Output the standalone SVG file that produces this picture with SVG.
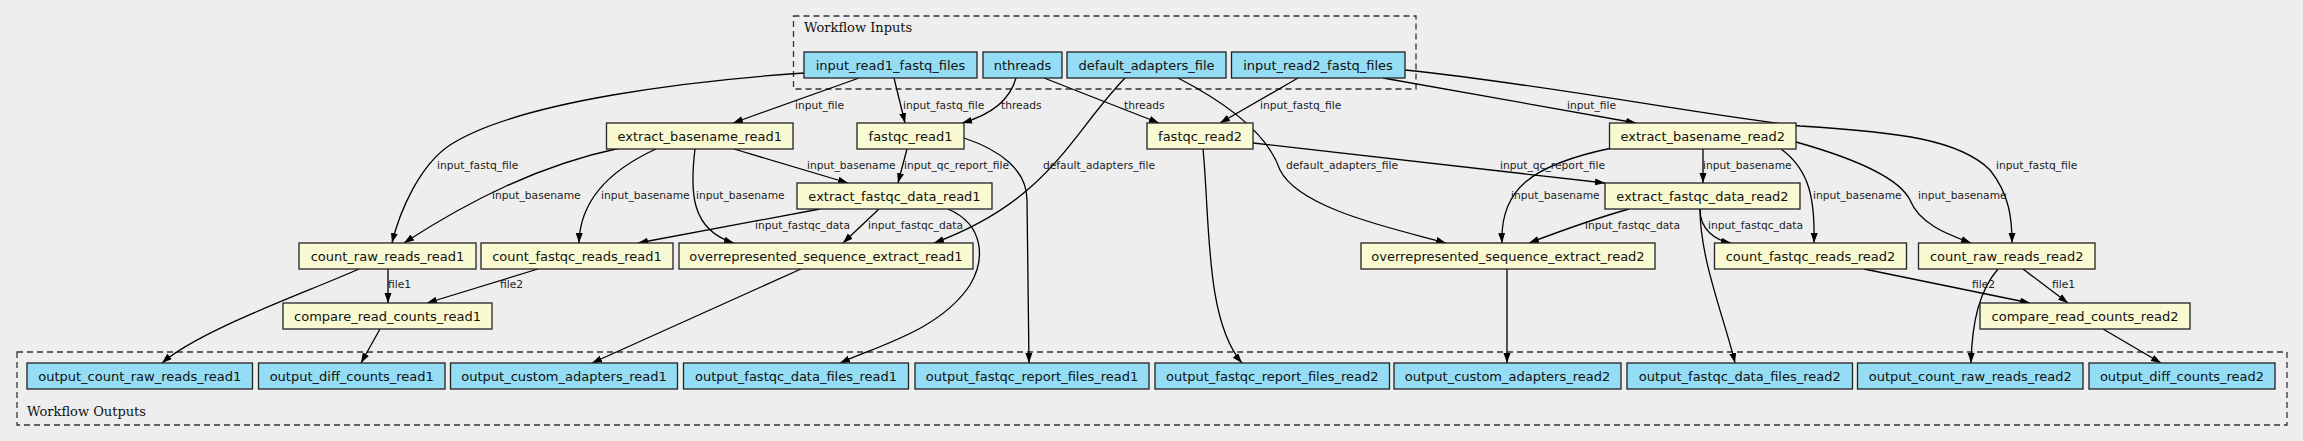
<svg xmlns="http://www.w3.org/2000/svg" width="2303" height="441" viewBox="0 0 2303 441">
<defs>
<marker id="arr" markerUnits="userSpaceOnUse" markerWidth="11" markerHeight="8" refX="10" refY="3.5" orient="auto">
<path d="M0,0 L10,3.5 L0,7 z" fill="#000"/>
</marker>
<style>
.bg{fill:#eeeeee}
.cl{fill:none;stroke:#333;stroke-width:1.3;stroke-dasharray:6,4}
.ct{font-family:"DejaVu Serif",serif;font-size:13px;fill:#111}
.in rect{fill:#94ddf4;stroke:#222;stroke-width:1.3}
.st rect{fill:#fafad2;stroke:#222;stroke-width:1.3}
.nt{font-family:"DejaVu Sans",sans-serif;font-size:13px;fill:#111;text-anchor:middle}
#connectors path{fill:none;stroke:#000;stroke-width:1.3;marker-end:url(#arr)}
.el{font-family:"DejaVu Sans",sans-serif;font-size:10.7px;fill:#222}
</style>
</defs>
<rect class="bg" x="0" y="0" width="2303" height="441"/>
<g id="cluster_inputs">
<rect class="cl" x="793.5" y="16" width="622.5" height="73"/>
<text class="ct" x="804" y="31.5">Workflow Inputs</text>
</g>
<g id="cluster_outputs">
<rect class="cl" x="17" y="352" width="2270" height="73"/>
<text class="ct" x="27" y="416">Workflow Outputs</text>
</g>

<g id="connectors">
<path d="M859,78 L733,123"/>
<path d="M894,78 L905,123"/>
<path d="M804,73 C700,80 520,100 450,145 C420,165 400,210 392,243"/>
<path d="M1016,78 C1010,100 990,115 962,123"/>
<path d="M1044,78 L1159,123"/>
<path d="M1125,78 C1070,135 1050,200 934,243"/>
<path d="M1178,78 C1240,110 1270,140 1280,170 C1300,210 1400,230 1446,243"/>
<path d="M1298,78 L1220,123"/>
<path d="M1383,78 L1636,123"/>
<path d="M1405,70 C1550,85 1700,115 1800,126 C1900,132 1960,140 1990,170 C2010,195 2012,220 2012,243"/>
<path d="M620,148 C540,165 470,200 404,243"/>
<path d="M656,149 C610,170 580,200 579,243"/>
<path d="M695,149 C690,190 690,230 734,243"/>
<path d="M734,149 L848,183"/>
<path d="M907,149 L898,183"/>
<path d="M964,138 C1000,150 1027,170 1027,200 L1029,363"/>
<path d="M1253,143 L1605,183"/>
<path d="M1203,149 C1210,220 1205,320 1242,363"/>
<path d="M1703,149 L1703,183"/>
<path d="M1612,148 C1530,165 1500,190 1502,243"/>
<path d="M1781,149 C1810,170 1815,200 1814,243"/>
<path d="M1796,142 C1860,160 1900,180 1910,200 C1920,225 1950,235 1971,243"/>
<path d="M820,209 L638,243"/>
<path d="M879,209 L843,243"/>
<path d="M948,209 C985,225 985,260 970,285 C940,330 880,345 840,363"/>
<path d="M1629,209 C1590,220 1550,235 1529,243"/>
<path d="M1700,209 C1700,230 1715,240 1731,243"/>
<path d="M1700,209 C1700,260 1725,320 1735,363"/>
<path d="M388,269 L388,303"/>
<path d="M359,269 C300,295 200,330 162,363"/>
<path d="M538,269 L427,303"/>
<path d="M380,329 L361,363"/>
<path d="M801,269 L592,363"/>
<path d="M1507,269 L1507,363"/>
<path d="M2023,269 L2068,303"/>
<path d="M1998,269 C1980,290 1972,320 1971,363"/>
<path d="M1864,269 L2030,303"/>
<path d="M2103,329 L2161,363"/>
<g id="edge-labels">
<text class="el" x="795" y="109">input_file</text>
<text class="el" x="903" y="109">input_fastq_file</text>
<text class="el" x="1001" y="109">threads</text>
<text class="el" x="1124" y="109">threads</text>
<text class="el" x="1260" y="109">input_fastq_file</text>
<text class="el" x="1567" y="109">input_file</text>
<text class="el" x="437" y="169">input_fastq_file</text>
<text class="el" x="807" y="169">input_basename</text>
<text class="el" x="904" y="169">input_qc_report_file</text>
<text class="el" x="1043" y="169">default_adapters_file</text>
<text class="el" x="1286" y="169">default_adapters_file</text>
<text class="el" x="1500" y="169">input_qc_report_file</text>
<text class="el" x="1703" y="169">input_basename</text>
<text class="el" x="1996" y="169">input_fastq_file</text>
<text class="el" x="492" y="199">input_basename</text>
<text class="el" x="601" y="199">input_basename</text>
<text class="el" x="696" y="199">input_basename</text>
<text class="el" x="1511" y="199">input_basename</text>
<text class="el" x="1813" y="199">input_basename</text>
<text class="el" x="1918" y="199">input_basename</text>
<text class="el" x="755" y="229">input_fastqc_data</text>
<text class="el" x="868" y="229">input_fastqc_data</text>
<text class="el" x="1585" y="229">input_fastqc_data</text>
<text class="el" x="1708" y="229">input_fastqc_data</text>
<text class="el" x="388" y="288">file1</text>
<text class="el" x="500" y="288">file2</text>
<text class="el" x="1972" y="288">file2</text>
<text class="el" x="2052" y="288">file1</text>
</g>
</g>

<g id="input_read1_fastq_files" class="in"><rect x="804" y="52" width="173" height="26"/><text class="nt" x="890.5" y="69.5">input_read1_fastq_files</text></g>
<g id="nthreads" class="in"><rect x="983" y="52" width="79" height="26"/><text class="nt" x="1022.5" y="69.5">nthreads</text></g>
<g id="default_adapters_file" class="in"><rect x="1067" y="52" width="159" height="26"/><text class="nt" x="1146.5" y="69.5">default_adapters_file</text></g>
<g id="input_read2_fastq_files" class="in"><rect x="1231.5" y="52" width="173.5" height="26"/><text class="nt" x="1318" y="69.5">input_read2_fastq_files</text></g>

<g id="extract_basename_read1" class="st"><rect x="606.5" y="123" width="186.5" height="26"/><text class="nt" x="699.75" y="140.5">extract_basename_read1</text></g>
<g id="fastqc_read1" class="st"><rect x="857" y="123" width="107" height="26"/><text class="nt" x="910.5" y="140.5">fastqc_read1</text></g>
<g id="fastqc_read2" class="st"><rect x="1147" y="123" width="106" height="26"/><text class="nt" x="1200" y="140.5">fastqc_read2</text></g>
<g id="extract_basename_read2" class="st"><rect x="1609.5" y="123" width="186.5" height="26"/><text class="nt" x="1702.75" y="140.5">extract_basename_read2</text></g>
<g id="extract_fastqc_data_read1" class="st"><rect x="797" y="183" width="195" height="26"/><text class="nt" x="894.5" y="200.5">extract_fastqc_data_read1</text></g>
<g id="extract_fastqc_data_read2" class="st"><rect x="1605" y="183" width="195" height="26"/><text class="nt" x="1702.5" y="200.5">extract_fastqc_data_read2</text></g>
<g id="count_raw_reads_read1" class="st"><rect x="299" y="243" width="177" height="26"/><text class="nt" x="387.5" y="260.5">count_raw_reads_read1</text></g>
<g id="count_fastqc_reads_read1" class="st"><rect x="481" y="243" width="192" height="26"/><text class="nt" x="577" y="260.5">count_fastqc_reads_read1</text></g>
<g id="overrepresented_sequence_extract_read1" class="st"><rect x="679" y="243" width="294" height="26"/><text class="nt" x="826" y="260.5">overrepresented_sequence_extract_read1</text></g>
<g id="overrepresented_sequence_extract_read2" class="st"><rect x="1361" y="243" width="294" height="26"/><text class="nt" x="1508" y="260.5">overrepresented_sequence_extract_read2</text></g>
<g id="count_fastqc_reads_read2" class="st"><rect x="1714.5" y="243" width="192" height="26"/><text class="nt" x="1810.5" y="260.5">count_fastqc_reads_read2</text></g>
<g id="count_raw_reads_read2" class="st"><rect x="1918.5" y="243" width="176.5" height="26"/><text class="nt" x="2006.75" y="260.5">count_raw_reads_read2</text></g>
<g id="compare_read_counts_read1" class="st"><rect x="283" y="303" width="209" height="26"/><text class="nt" x="387.5" y="320.5">compare_read_counts_read1</text></g>
<g id="compare_read_counts_read2" class="st"><rect x="1980" y="303" width="210" height="26"/><text class="nt" x="2085" y="320.5">compare_read_counts_read2</text></g>

<g id="output_count_raw_reads_read1" class="in"><rect x="27" y="363" width="225.5" height="26"/><text class="nt" x="139.75" y="380.5">output_count_raw_reads_read1</text></g>
<g id="output_diff_counts_read1" class="in"><rect x="258.5" y="363" width="186.5" height="26"/><text class="nt" x="351.75" y="380.5">output_diff_counts_read1</text></g>
<g id="output_custom_adapters_read1" class="in"><rect x="450.5" y="363" width="227" height="26"/><text class="nt" x="564" y="380.5">output_custom_adapters_read1</text></g>
<g id="output_fastqc_data_files_read1" class="in"><rect x="683.5" y="363" width="225" height="26"/><text class="nt" x="796" y="380.5">output_fastqc_data_files_read1</text></g>
<g id="output_fastqc_report_files_read1" class="in"><rect x="915" y="363" width="234" height="26"/><text class="nt" x="1032" y="380.5">output_fastqc_report_files_read1</text></g>
<g id="output_fastqc_report_files_read2" class="in"><rect x="1155" y="363" width="234.5" height="26"/><text class="nt" x="1272.25" y="380.5">output_fastqc_report_files_read2</text></g>
<g id="output_custom_adapters_read2" class="in"><rect x="1394" y="363" width="227" height="26"/><text class="nt" x="1507.5" y="380.5">output_custom_adapters_read2</text></g>
<g id="output_fastqc_data_files_read2" class="in"><rect x="1627" y="363" width="225.5" height="26"/><text class="nt" x="1739.75" y="380.5">output_fastqc_data_files_read2</text></g>
<g id="output_count_raw_reads_read2" class="in"><rect x="1857.5" y="363" width="225.5" height="26"/><text class="nt" x="1970.25" y="380.5">output_count_raw_reads_read2</text></g>
<g id="output_diff_counts_read2" class="in"><rect x="2089" y="363" width="186" height="26"/><text class="nt" x="2182" y="380.5">output_diff_counts_read2</text></g>
</svg>
